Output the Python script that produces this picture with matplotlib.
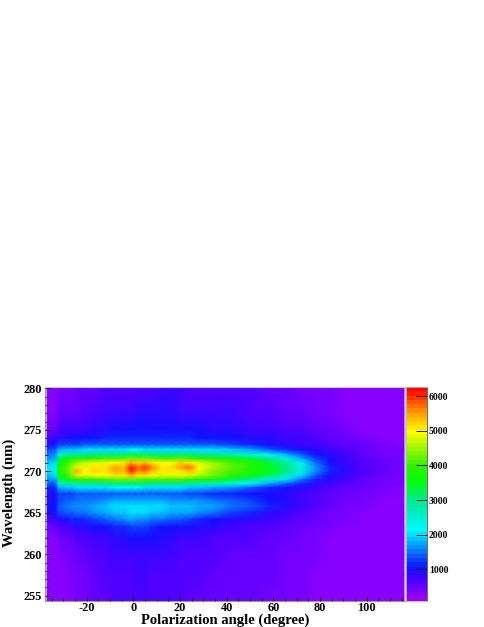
import numpy as np
import matplotlib
matplotlib.use("Agg")
import matplotlib.pyplot as plt
from matplotlib.colors import LinearSegmentedColormap, Normalize

plt.rcParams['font.family'] = ['Liberation Serif', 'DejaVu Serif']
plt.rcParams['font.weight'] = 'bold'

angles = [-37,-33.5,-32,-29,-26.5,-24,-21,-17,-12,-8,-4,-1,2,5,8,12,16,20,24,28,34,42,50,58,66,72,78,84,90,98,106,116]
wavelengths = [280,277,275,274,273.2,272.6,272,271.5,271,270.5,270,269.5,269,268.5,268,267.3,266.5,265.8,265,264.2,263.3,262,260,257.5,254.4]
intensity = [
[280,300,400,430,450,470,500,560,600,640,670,690,700,700,710,720,720,720,700,680,650,620,590,560,520,450,400,360,320,290,280,280],
[300,330,480,520,540,560,610,680,740,780,810,830,840,840,840,840,840,830,820,800,760,720,680,640,580,500,440,390,340,300,290,280],
[450,500,680,740,780,800,830,880,930,960,990,1000,1000,1000,1000,1000,1000,990,980,960,930,880,820,770,700,620,540,470,400,340,310,290],
[700,760,880,930,960,980,1020,1060,1090,1110,1120,1130,1130,1130,1130,1120,1110,1100,1090,1080,1060,1010,950,880,800,720,640,560,470,400,340,310],
[1050,1080,1250,1300,1300,1320,1350,1380,1400,1400,1420,1420,1420,1420,1420,1400,1400,1390,1380,1370,1340,1280,1180,1060,930,820,740,680,570,470,390,330],
[1300,1350,1750,1850,1850,1900,1950,2000,2050,2050,2050,2100,2100,2050,2050,2050,2050,2050,2000,2000,1950,1850,1700,1450,1200,1000,850,760,640,520,420,350],
[1500,1600,2500,2750,2850,2900,2950,3000,3100,3150,3150,3200,3200,3150,3150,3100,3150,3150,3100,3050,2950,2800,2500,2150,1750,1350,1050,850,720,570,450,370],
[1650,1800,3200,3500,3700,3800,3900,3950,4050,4150,4200,4350,4250,4300,4200,4150,4150,4200,4100,4000,3850,3650,3400,2950,2400,1800,1300,980,790,610,480,390],
[1850,2000,3500,3900,4250,4500,4700,4800,4900,5000,5050,5500,5200,5300,5050,4950,4950,5200,5050,4800,4500,4150,3800,3400,2900,2200,1500,1080,830,640,500,400],
[2000,2200,3650,4100,4500,4800,4900,5050,5100,5500,5300,6100,5650,6000,5550,5100,5150,5400,5700,5000,4550,4200,3900,3500,3050,2400,1650,1130,850,650,510,410],
[2000,2200,3700,4150,4500,5500,5000,5250,5150,5500,5300,6100,5600,5700,5300,5050,5050,5150,5300,4850,4400,4150,3850,3450,3000,2350,1600,1120,840,640,500,400],
[1800,2000,3500,3900,4300,5100,4850,5000,4950,5100,5050,5300,5100,5050,5000,4900,4900,4900,4850,4600,4300,4000,3650,3200,2600,2000,1400,1020,800,620,490,390],
[1600,1750,3100,3500,3700,3900,3950,4000,4100,4200,4200,4250,4250,4150,4150,4100,4100,4050,4000,3850,3650,3400,3050,2550,2050,1550,1150,900,730,580,460,380],
[1350,1450,2500,2700,2800,2850,2950,3000,3050,3100,3100,3150,3100,3100,3050,3000,3000,2950,2900,2800,2600,2400,2100,1800,1450,1150,920,790,650,530,430,360],
[1100,1200,1750,1850,1900,1950,2000,2050,2050,2100,2100,2100,2100,2050,2050,2000,2000,1950,1900,1850,1750,1600,1400,1200,1050,900,780,680,570,480,400,340],
[950,1050,1250,1300,1320,1350,1370,1400,1400,1400,1420,1420,1420,1420,1400,1400,1380,1350,1320,1280,1200,1120,1040,960,860,760,660,570,490,420,360,320],
[950,1050,1300,1400,1450,1500,1520,1560,1650,1720,1750,1780,1780,1780,1750,1720,1680,1650,1620,1580,1480,1350,1220,1080,900,740,620,520,440,370,330,300],
[1000,1080,1450,1550,1600,1640,1680,1750,1880,1960,2000,2050,2050,2020,1980,1950,1920,1880,1850,1800,1720,1550,1380,1150,900,720,590,490,410,350,310,290],
[950,1020,1250,1350,1420,1480,1550,1650,1780,1880,1940,2020,2000,1980,1900,1850,1800,1750,1700,1620,1480,1300,1120,950,780,640,530,450,380,330,300,280],
[700,760,950,1020,1100,1150,1200,1300,1400,1500,1600,1700,1650,1650,1560,1460,1420,1360,1280,1180,1060,950,850,760,660,560,480,410,350,310,290,270],
[420,480,620,700,800,850,900,960,1040,1100,1150,1250,1300,1300,1150,1080,1040,1000,960,900,840,780,700,630,560,490,420,370,330,300,280,270],
[300,340,440,500,560,620,680,740,820,870,920,1000,1030,1030,980,900,840,800,760,720,680,640,590,540,490,430,380,340,300,280,270,260],
[260,280,340,390,430,470,530,610,690,740,780,810,820,820,810,780,740,710,680,650,620,580,540,500,450,400,350,310,290,270,260,250],
[260,270,310,340,370,400,450,530,600,650,690,710,720,720,710,690,660,640,620,600,570,540,510,470,430,380,330,300,280,260,250,250],
[250,260,290,310,340,360,400,470,540,590,620,640,650,650,640,630,610,590,570,550,530,510,480,450,410,360,320,290,270,250,250,240],
]
x_ticks = [-20, 0, 20, 40, 60, 80, 100]
x_tick_labels = ['-20', '0', '20', '40', '60', '80', '100']
y_ticks = [255, 260, 265, 270, 275, 280]
z_ticks = [1000, 2000, 3000, 4000, 5000, 6000]
z_min, z_max = 96, 6260

W, H = 485, 627
fig = plt.figure(figsize=(W/100, H/100), dpi=100)
def box(l, t, r, b):
    return [l/W, 1-b/H, (r-l)/W, (b-t)/H]

stops = [(96,'#9a00ff'),(600,'#5000ff'),(1000,'#1010ff'),(1500,'#0a78ff'),(2100,'#00f8ff'),
         (3000,'#00e890'),(3500,'#00ff10'),(4000,'#30f000'),(5000,'#ffff00'),(5500,'#ffa800'),(6260,'#ff0000')]
cmap = LinearSegmentedColormap.from_list('root',
    [((v-z_min)/(z_max-z_min), c) for v, c in stops], N=50)
norm = Normalize(z_min, z_max)

ax = fig.add_axes(box(45, 387, 404.7, 600.7))
ax.pcolormesh(angles, wavelengths, np.array(intensity), cmap=cmap, norm=norm, shading='gouraud')
ax.set_xlim(-37.9, 116.3)
ax.set_ylim(254.4, 280.16)
ax.set_xticks(x_ticks, x_tick_labels)
ax.set_xticks(np.arange(-35, 116, 5), minor=True)
ax.set_yticks(y_ticks)
ax.set_yticks(np.arange(255, 281, 1), minor=True)
ax.tick_params(which='major', direction='in', length=4.4, width=0.7, color='#222222', labelsize=8.8)
ax.tick_params(axis='x', which='major', pad=0.6)
ax.tick_params(axis='y', which='major', pad=2.5)
ax.tick_params(which='minor', direction='in', length=2.2, width=0.7, color='#222222')
for s in ax.spines.values():
    s.set_color('#999999'); s.set_linewidth(0.8)
ax.spines['top'].set_color('#cccccc'); ax.spines['right'].set_color('#cccccc')
ax.set_axisbelow(False)
fig.text(225/W, 1-620.5/H, 'Polarization angle (degree)', ha='center', va='center', fontsize=10.5, fontweight='bold')
fig.text(9.5/W, 1-493/H, 'Wavelength (nm)', ha='center', va='center', rotation=90, fontsize=10.6, fontweight='bold')

cax = fig.add_axes(box(406, 387, 426.7, 600.7))
zv = np.linspace(z_min, z_max, 51)
cax.pcolormesh([0, 1], zv, np.array([(zv[:-1]+zv[1:])/2]).T, cmap=cmap, norm=norm)
cax.set_xlim(0, 1); cax.set_ylim(z_min, z_max)
cax.set_xticks([])
cax.yaxis.tick_right()
cax.set_yticks(z_ticks)
cax.tick_params(axis='y', direction='in', length=8, width=0.7, color='#222222', labelsize=6.9, pad=1.5)
for s in cax.spines.values():
    s.set_color('#bbbbbb'); s.set_linewidth(0.6)
cax.spines['right'].set_color('#555555')

fig.savefig('out.png', dpi=100)
